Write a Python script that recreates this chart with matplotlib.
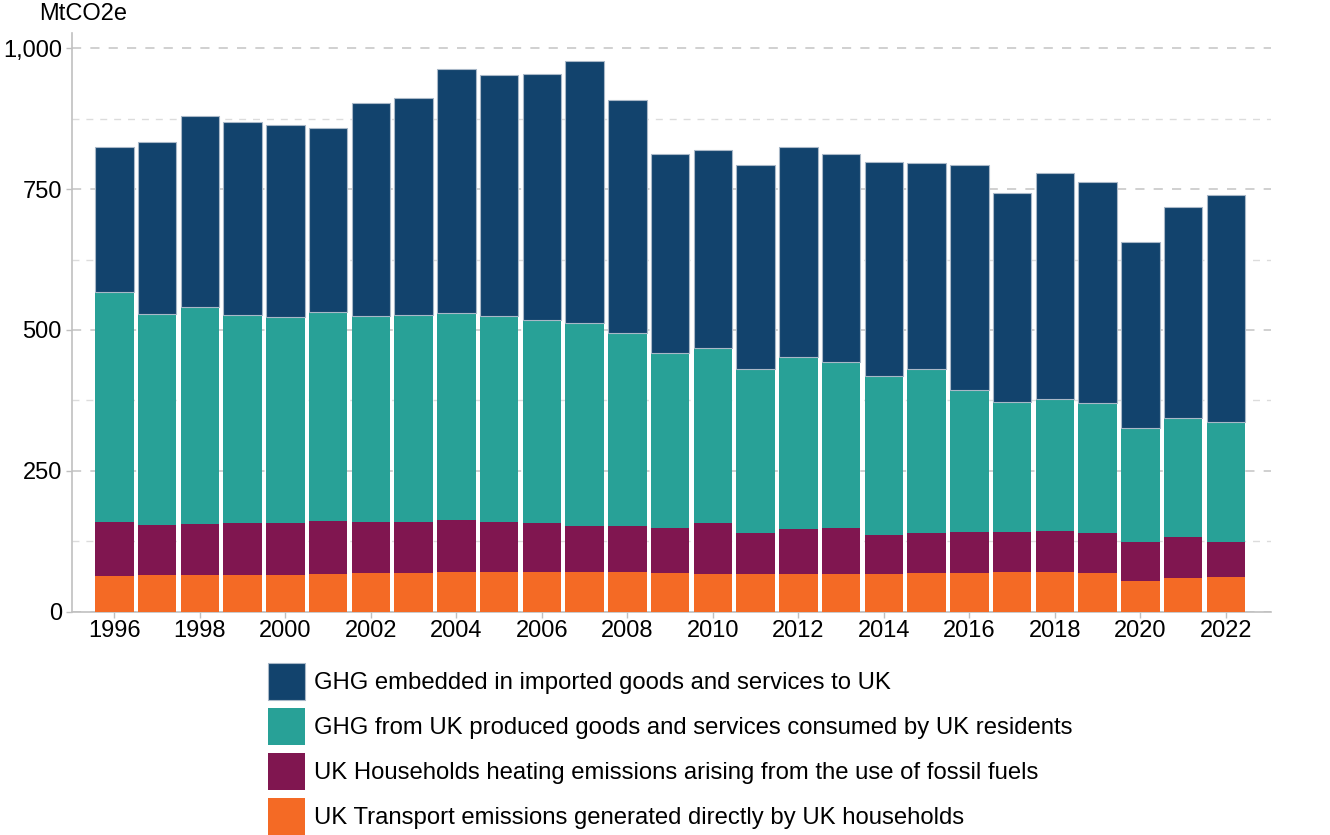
import matplotlib.pyplot as plt
from matplotlib.ticker import FuncFormatter, MultipleLocator
import numpy as np

plt.rcParams['font.family'] = ['Liberation Sans', 'DejaVu Sans']

years = list(range(1996, 2023))

# MtCO2e
transport = [64, 65, 65, 66, 65, 67, 69, 69, 70, 70, 70, 70, 70, 69, 67, 67, 67, 67,
             67, 68, 69, 70, 70, 69, 54, 59, 62]
heating = [96, 89, 91, 91, 92, 94, 91, 91, 93, 90, 87, 83, 83, 80, 91, 72, 79, 81,
           69, 72, 73, 72, 74, 71, 70, 73, 62]
uk_produced = [407, 374, 385, 370, 366, 370, 364, 367, 367, 365, 360, 359, 341, 311, 310,
               292, 306, 295, 283, 290, 252, 230, 234, 230, 202, 212, 212]
imported = [258, 305, 339, 342, 341, 327, 378, 385, 433, 428, 437, 465, 414, 353, 351,
            361, 372, 369, 379, 367, 398, 371, 401, 392, 330, 375, 403]

labels = ["GHG embedded in imported goods and services to UK",
          "GHG from UK produced goods and services consumed by UK residents",
          "UK Households heating emissions arising from the use of fossil fuels",
          "UK Transport emissions generated directly by UK households"]
colors = ["#12436D", "#28A197", "#801650", "#F46A25"]

fig = plt.figure(figsize=(13.3, 8.35), dpi=100)
ax = fig.add_axes([0.0539, 0.2674, 0.9015, 0.6931])

x = np.array(years)
w = 0.9
b1 = np.array(transport)
b2 = b1 + np.array(heating)
b3 = b2 + np.array(uk_produced)

h4 = ax.bar(x, transport, w, color=colors[3], zorder=3)
h3 = ax.bar(x, heating, w, bottom=b1, color=colors[2], zorder=3)
h2 = ax.bar(x, uk_produced, w, bottom=b2, color=colors[1], zorder=3)
h1 = ax.bar(x, imported, w, bottom=b3, color=colors[0], edgecolor="#a9b8c8",
            linewidth=0.8, zorder=3)

ax.set_xlim(1995.0, 2023.05)
ax.set_ylim(0, 1027)
ax.set_xticks(range(1996, 2023, 2))
ax.yaxis.set_major_locator(MultipleLocator(250))
ax.yaxis.set_minor_locator(MultipleLocator(125))
ax.yaxis.set_major_formatter(FuncFormatter(lambda v, p: f"{int(v):,}"))

ax.grid(axis="y", which="major", color="#c4c4c4", linestyle=(0, (6, 6)), linewidth=1.1, zorder=0)
ax.grid(axis="y", which="minor", color="#dcdcdc", linestyle=(0, (5, 5)), linewidth=1.0, zorder=0)

for s in ["top", "right"]:
    ax.spines[s].set_visible(False)
for s in ["left", "bottom"]:
    ax.spines[s].set_color("#c0c0c0")
    ax.spines[s].set_linewidth(1.2)

ax.tick_params(axis="both", which="major", labelsize=17, color="#c0c0c0", length=4, width=1)
ax.tick_params(axis="y", which="minor", length=0)
ax.tick_params(axis="x", pad=2)
ax.tick_params(axis="y", pad=3)

fig.text(39 / 1330, 1 - 14 / 835, "MtCO2e", fontsize=17, ha="left", va="center")

fig.legend([h1, h2, h3, h4], labels, loc="upper left",
           bbox_to_anchor=(268 / 1330, 1 - 663 / 835), frameon=False, fontsize=17.2,
           borderpad=0, borderaxespad=0, handlelength=1.53, handleheight=2.0,
           handletextpad=0.38, labelspacing=0.34)

fig.savefig("out.png", dpi=100)
